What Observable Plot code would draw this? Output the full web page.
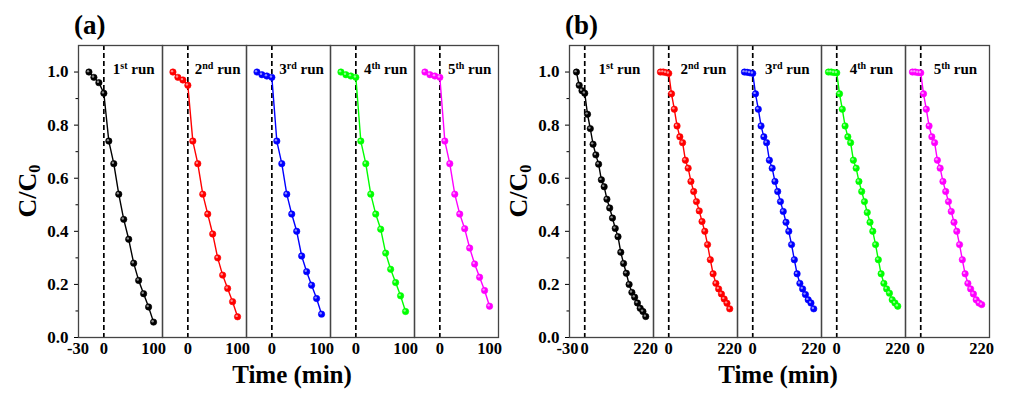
<!DOCTYPE html>
<html>
<head>
<meta charset="utf-8">
<script src="https://cdn.jsdelivr.net/npm/d3@7"></script>
<script src="https://cdn.jsdelivr.net/npm/@observablehq/plot@0.6"></script>
<style>
  body { margin: 0; background: #fff; }
  #fig { position: relative; width: 1014px; height: 396px; display: flex; font-family: "Liberation Serif", "Times New Roman", serif; font-weight: bold; color: #000; }
  .ov { position: absolute; white-space: nowrap; line-height: 1; }
  .tag { font-size: 27px; }
  .ylab { font-size: 26px; transform: translate(-50%, -50%) rotate(-90deg); }
  .xlab { font-size: 25px; transform: translate(-50%, -50%); }
  sub { font-size: 62%; vertical-align: -0.25em; }
</style>
</head>
<body>
<div id="fig"></div>
<script>
// ---- data ----
const runs = ["1st run", "2nd run", "3rd run", "4th run", "5th run"];
const runColors = ["#000000", "#ff0000", "#0000ff", "#00ff00", "#ff00ff"];

const timeA = [-30, -20, -10, 0, 10, 20, 30, 40, 50, 60, 70, 80, 90, 100];
const runA1 = [1.0, 0.98, 0.96, 0.92, 0.74, 0.655, 0.54, 0.445, 0.37, 0.28, 0.215, 0.165, 0.115, 0.058];
const runA2 = [1.0, 0.98, 0.97, 0.95, 0.74, 0.655, 0.54, 0.465, 0.39, 0.30, 0.235, 0.185, 0.135, 0.078];
const runA3 = [1.0, 0.99, 0.985, 0.98, 0.74, 0.655, 0.54, 0.465, 0.40, 0.307, 0.248, 0.197, 0.147, 0.088];
const runA4 = [1.0, 0.99, 0.985, 0.98, 0.74, 0.655, 0.54, 0.465, 0.408, 0.318, 0.257, 0.207, 0.157, 0.098];
const runA5 = [1.0, 0.99, 0.985, 0.98, 0.74, 0.655, 0.54, 0.465, 0.41, 0.337, 0.277, 0.227, 0.177, 0.118];

const timeB = [-30, -20, -10, 0, 10, 20, 30, 40, 50, 60, 70, 80, 90, 100, 110, 120, 130, 140, 150, 160, 170, 180, 190, 200, 210, 220];
const runB1 = [1.0, 0.95, 0.93, 0.92, 0.841, 0.787, 0.728, 0.688, 0.653, 0.594, 0.568, 0.521, 0.488, 0.45, 0.411, 0.38, 0.321, 0.279, 0.242, 0.2, 0.17, 0.152, 0.13, 0.11, 0.098, 0.079];
const runB2 = [1.0, 1.0, 0.998, 0.995, 0.918, 0.86, 0.797, 0.756, 0.734, 0.668, 0.638, 0.588, 0.55, 0.512, 0.477, 0.437, 0.40, 0.35, 0.293, 0.24, 0.204, 0.183, 0.164, 0.145, 0.129, 0.108];
const runB3 = [1.0, 0.999, 0.997, 0.995, 0.918, 0.86, 0.797, 0.756, 0.734, 0.668, 0.638, 0.588, 0.55, 0.512, 0.475, 0.434, 0.40, 0.35, 0.293, 0.24, 0.204, 0.183, 0.162, 0.142, 0.13, 0.108];
const runB4 = [1.0, 1.0, 0.998, 0.997, 0.918, 0.86, 0.797, 0.756, 0.734, 0.668, 0.638, 0.588, 0.55, 0.512, 0.471, 0.434, 0.40, 0.35, 0.293, 0.24, 0.204, 0.183, 0.167, 0.142, 0.13, 0.118];
const runB5 = [1.0, 1.0, 0.998, 0.997, 0.918, 0.86, 0.797, 0.756, 0.734, 0.668, 0.638, 0.588, 0.55, 0.512, 0.475, 0.434, 0.40, 0.35, 0.293, 0.24, 0.204, 0.183, 0.164, 0.142, 0.13, 0.124];

const yTicks = [0.0, 0.2, 0.4, 0.6, 0.8, 1.0];
const yMinorTicks = [0.1, 0.3, 0.5, 0.7, 0.9];
const xTicksFirstA = [-30, 0, 100];
const xTicksOtherA = [0, 100];
const xTicksFirstB = [-30, 0, 220];
const xTicksOtherB = [0, 220];

// ---- build ----
function rowsFor(times, series) {
  const rows = [];
  series.forEach((vals, i) => vals.forEach((v, j) => rows.push({run: runs[i], color: runColors[i], t: times[j], v})));
  return rows;
}
function tickRows(first, other) {
  const rows = [];
  runs.forEach((r, i) => (i === 0 ? first : other).forEach(t => rows.push({run: r, t})));
  return rows;
}

function panel({times, series, xDomain, first, other, labelX, negDx, width, marginLeft, marginRight}) {
  const rows = rowsFor(times, series);
  const ticks = tickRows(first, other);
  const chart = Plot.plot({
    width, height: 396,
    marginLeft, marginRight, marginTop: 45, marginBottom: 59,
    style: {fontFamily: "Liberation Serif, Times New Roman, serif", fontWeight: "bold", fontSize: "17px", color: "#000", background: "#fff", overflow: "visible"},
    x: {domain: xDomain, axis: null},
    y: {domain: [0, 1.1]},
    fx: {domain: runs, padding: 0, axis: null},
    color: {type: "identity"},
    marks: [
      Plot.ruleX([0], {stroke: "#000", strokeWidth: 1.7, strokeDasharray: "5,3"}),
      Plot.line(rows, {fx: "run", x: "t", y: "v", z: "run", stroke: "color", strokeWidth: 1.4}),
      Plot.dot(rows, {fx: "run", x: "t", y: "v", fill: "color", stroke: "color", strokeWidth: 0.6, r: 3.2}),
      Plot.dot(rows, {fx: "run", x: "t", y: "v", fill: "white", fillOpacity: 0.55, r: 1.2, dx: -0.9, dy: -0.9}),
      Plot.frame({stroke: "#444", strokeWidth: 1.3}),
      Plot.axisY({ticks: yTicks, tickFormat: d3.format(".1f"), tickSize: 4, tickPadding: 6, label: null, facetAnchor: "left", fontSize: 17}),
      Plot.axisY({ticks: yMinorTicks, tickFormat: () => "", tickSize: 2.5, label: null, facetAnchor: "left"}),
      Plot.text(ticks.filter(d => d.t >= 0), {fx: "run", x: "t", text: d => String(d.t), frameAnchor: "bottom", dy: 16, fontSize: 16.5}),
      Plot.text(ticks.filter(d => d.t < 0), {fx: "run", x: "t", text: d => String(d.t), frameAnchor: "bottom", dy: 16, dx: negDx, fontSize: 16.5}),
      Plot.text(runs, {fx: d => d, x: labelX, text: d => d, frameAnchor: "top", dy: 18, fontSize: 15})
    ]
  });
  // superscripts for run labels
  const ns = "http://www.w3.org/2000/svg";
  chart.querySelectorAll("text").forEach(t => {
    const m = /^(\d)(st|nd|rd|th) run$/.exec(t.textContent);
    if (!m) return;
    t.textContent = "";
    const a = document.createElementNS(ns, "tspan"); a.textContent = m[1];
    const b = document.createElementNS(ns, "tspan"); b.textContent = m[2];
    b.setAttribute("font-size", "10"); b.setAttribute("dy", "-5");
    const c = document.createElementNS(ns, "tspan"); c.textContent = "\u00a0run"; c.setAttribute("dy", "5");
    t.append(a, b, c);
  });
  return chart;
}

const fig = document.getElementById("fig");
fig.append(panel({times: timeA, series: [runA1, runA2, runA3, runA4, runA5], xDomain: [-51, 118], first: xTicksFirstA, other: xTicksOtherA, labelX: 60, negDx: -11, width: 507, marginLeft: 78, marginRight: 9}));
fig.append(panel({times: timeB, series: [runB1, runB2, runB3, runB4, runB5], xDomain: [-55, 248], first: xTicksFirstB, other: xTicksOtherB, labelX: 125, negDx: -9, width: 507, marginLeft: 61, marginRight: 25}));

function ov(cls, html, left, top) {
  const d = document.createElement("div");
  d.className = "ov " + cls; d.innerHTML = html;
  d.style.left = left + "px"; d.style.top = top + "px";
  fig.append(d);
}
ov("tag", "(a)", 74, 12);
ov("tag", "(b)", 565, 12);
ov("ylab", "C/C<sub>0</sub>", 29, 191);
ov("ylab", "C/C<sub>0</sub>", 520, 191);
ov("xlab", "Time (min)", 292, 374);
ov("xlab", "Time (min)", 778, 374);
</script>
</body>
</html>
